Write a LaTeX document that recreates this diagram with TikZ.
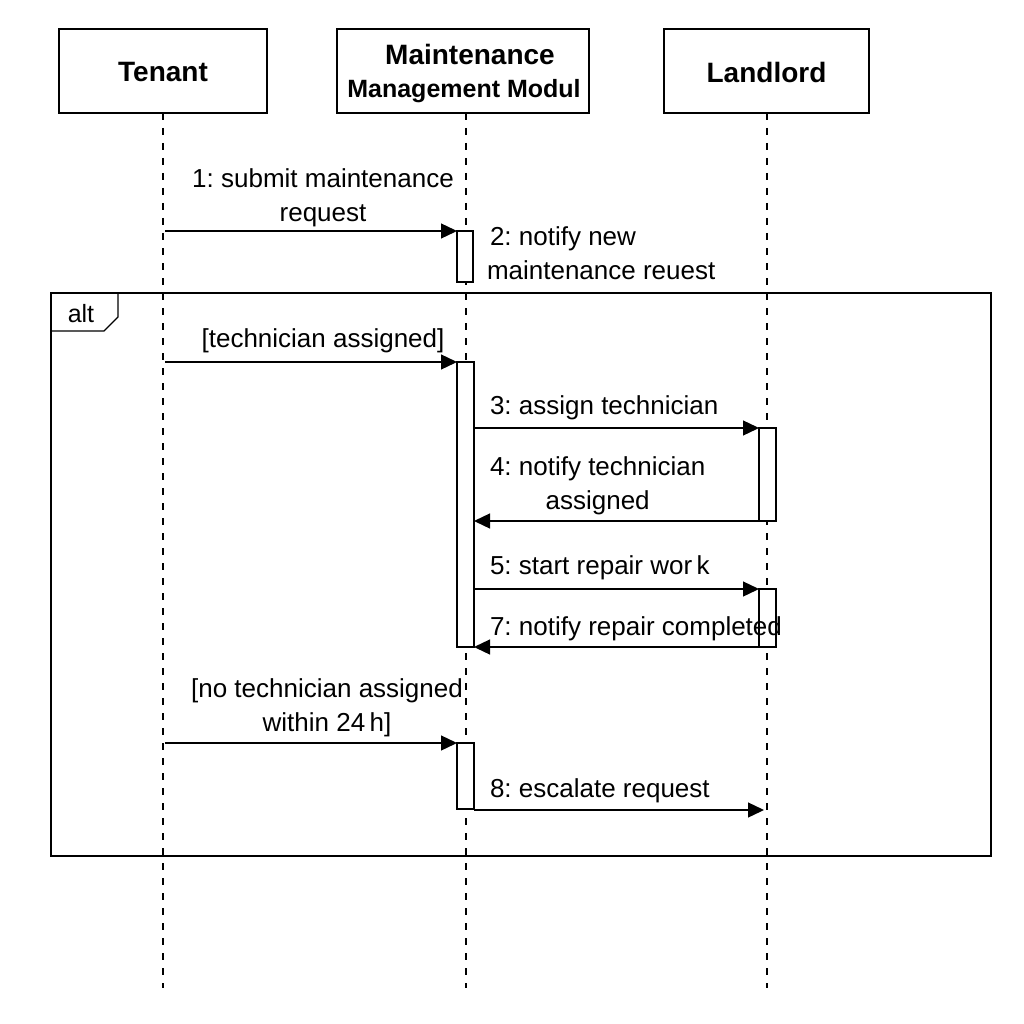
\documentclass[tikz,border=0pt]{standalone}
\usepackage{fontspec}
\setmainfont{Liberation Sans}
\usetikzlibrary{arrows.meta}
\frenchspacing
\begin{document}
\begin{tikzpicture}[x=1pt,y=-1pt,
  every node/.style={inner sep=0pt,outer sep=0pt},
  head/.style={draw,line width=1.3pt,minimum height=84pt,align=center},
  life/.style={line width=1.1pt,dash pattern=on 7pt off 8pt},
  act/.style={draw,line width=1.2pt,fill=white,minimum width=16pt,anchor=north west},
  msg/.style={line width=1.3pt,-{Triangle[length=16pt,width=15pt]}},
  lbl/.style={font=\fontsize{26}{34}\selectfont},
  hd/.style={font=\bfseries\fontsize{28}{34}\selectfont}]
\useasboundingbox (0,0) rectangle (1024,1024);
\fill[white] (0,0) rectangle (1024,1024);
% heads
\node[head,minimum width=208pt] (T) at (163,71) {};
\node[hd] (Tt) at (163,72) {Tenant};
\node[head,minimum width=252pt] (M) at (463,71) {};
\node[hd] (Mt1) at (470,54) {Maintenance};
\node[font=\bfseries\fontsize{25}{30}\selectfont] (Mt2) at (464,91) {Management Modul};
\node[head,minimum width=205pt] (L) at (766.5,71) {};
\node[hd] (Lt) at (766.5,72) {Landlord};
% lifelines
\coordinate (Tend) at (163,988);
\coordinate (Mend) at (466,988);
\coordinate (Lend) at (767,988);
\draw[life] (T.south -| Tend) -- (Tend);
\draw[life] (466,113) -- (Mend);
\draw[life] (767,113) -- (Lend);
% alt frame
\draw[line width=1.2pt] (51,293) rectangle (991,856);
\draw[line width=1.2pt] (118,293) -- (118,317) -- (104,331) -- (51,331);
\node[font=\fontsize{25}{30}\selectfont] (alt) at (81,314) {alt};
% activations
\node[act,minimum height=51pt] (a1) at (457,231) {};
\node[act,minimum height=285pt,minimum width=17pt] (a2) at (457,362) {};
\node[act,minimum height=93pt,minimum width=17pt] (b1) at (759,428) {};
\node[act,minimum height=58pt,minimum width=17pt] (b2) at (759,589) {};
\node[act,minimum height=66pt,minimum width=17pt] (a3) at (457,743) {};
% coordinates on lifelines
\coordinate (t1) at (165,231);
\coordinate (t2) at (165,362);
\coordinate (t3) at (165,743);
\coordinate (l8) at (764,810);
% messages
\draw[msg] (t1) -- (a1.north west);
\draw[msg] (t2) -- (a2.north west);
\draw[msg] (a2.east |- b1.north) -- (b1.north west);
\draw[msg] (b1.south east) -- (a2.east |- b1.south);
\draw[msg] (a2.east |- b2.north) -- (b2.north west);
\draw[msg] (b2.south east) -- (a2.south east);
\draw[msg] (t3) -- (a3.north west);
\draw[msg] (a3.south east) ++(0,1) -- (l8);
% labels
\node[lbl,align=center] (m1) at (323,198) {1: submit maintenance\\request};
\node[lbl,align=left,anchor=west] (m2) at (487,253) {\hspace*{3pt}2: notify new\\maintenance reuest};
\node[lbl] (g1) at (323,341) {[technician assigned]};
\node[lbl,anchor=west] (m3) at (490,408) {3: assign technician};
\node[lbl,align=center,anchor=west] (m4) at (490,486) {4: notify technician\\assigned};
\node[lbl,anchor=west] (m5) at (490,568) {5: start repair wor\,k};
\node[lbl,anchor=west] (m7) at (490,629) {7: notify repair completed};
\node[lbl,align=center] (g2) at (327,708) {[no technician assigned\\within 24\,h]};
\node[lbl,anchor=west] (m8) at (490,791) {8: escalate request};
\end{tikzpicture}
\end{document}
